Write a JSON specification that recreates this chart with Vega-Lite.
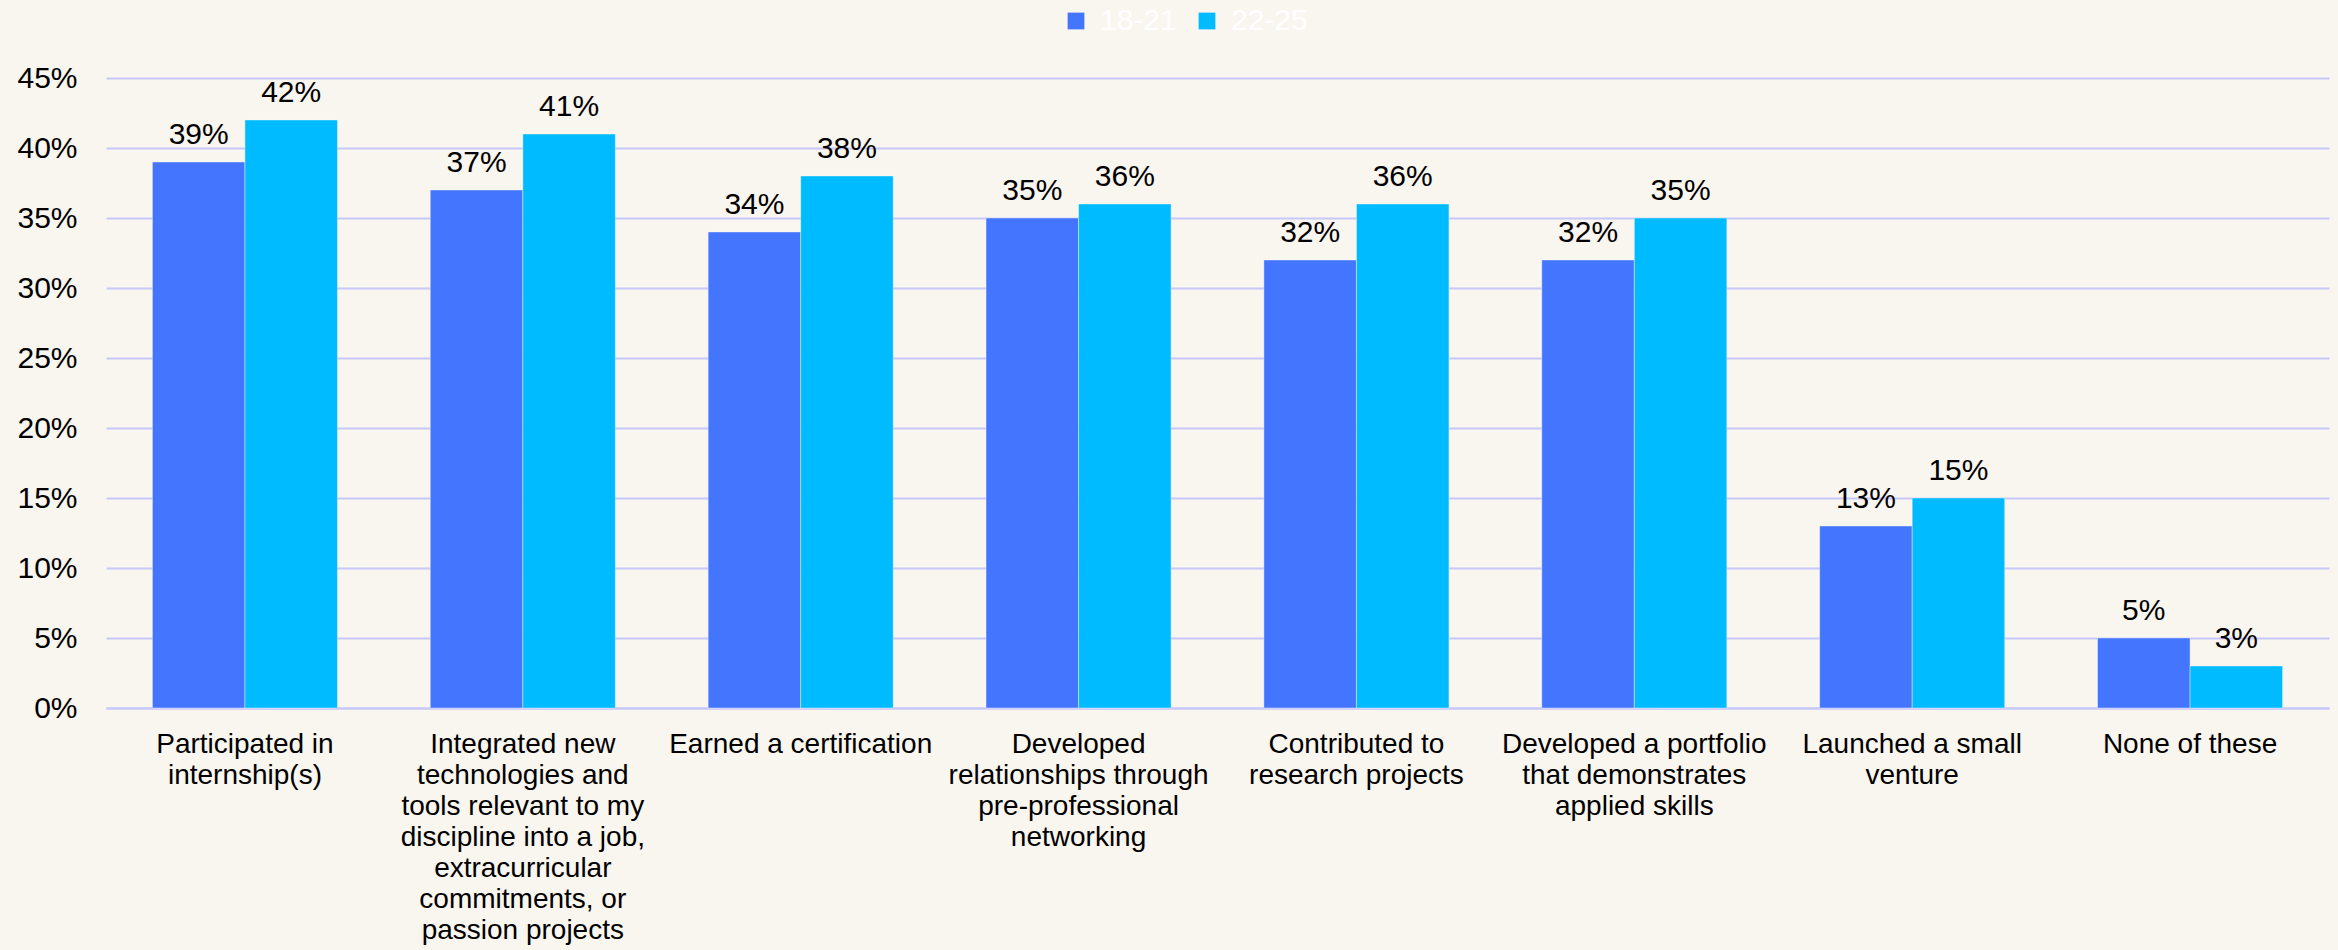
{
  "$schema": "https://vega.github.io/schema/vega-lite/v6.json",
  "width": 2223,
  "height": 630,
  "autosize": {"type": "none"},
  "padding": {"left": 106, "top": 78, "right": 9, "bottom": 242},
  "background": "#F9F5EF",
  "config": {"font": "Liberation Sans", "view": {"stroke": null}},
  "data": {
    "values": [
      {"category": "Participated in internship(s)", "age": "18-21", "pct": 0.39},
      {"category": "Participated in internship(s)", "age": "22-25", "pct": 0.42},
      {"category": "Integrated new technologies and tools relevant to my discipline into a job, extracurricular commitments, or passion projects", "age": "18-21", "pct": 0.37},
      {"category": "Integrated new technologies and tools relevant to my discipline into a job, extracurricular commitments, or passion projects", "age": "22-25", "pct": 0.41},
      {"category": "Earned a certification", "age": "18-21", "pct": 0.34},
      {"category": "Earned a certification", "age": "22-25", "pct": 0.38},
      {"category": "Developed relationships through pre-professional networking", "age": "18-21", "pct": 0.35},
      {"category": "Developed relationships through pre-professional networking", "age": "22-25", "pct": 0.36},
      {"category": "Contributed to research projects", "age": "18-21", "pct": 0.32},
      {"category": "Contributed to research projects", "age": "22-25", "pct": 0.36},
      {"category": "Developed a portfolio that demonstrates applied skills", "age": "18-21", "pct": 0.32},
      {"category": "Developed a portfolio that demonstrates applied skills", "age": "22-25", "pct": 0.35},
      {"category": "Launched a small venture", "age": "18-21", "pct": 0.13},
      {"category": "Launched a small venture", "age": "22-25", "pct": 0.15},
      {"category": "None of these", "age": "18-21", "pct": 0.05},
      {"category": "None of these", "age": "22-25", "pct": 0.03}
    ]
  },
  "encoding": {
    "x": {
      "field": "category",
      "type": "nominal",
      "sort": null,
      "scale": {"paddingInner": 0.334, "paddingOuter": 0.167},
      "axis": {
        "title": null,
        "labelAngle": 0,
        "labelFontSize": 28,
        "labelColor": "#000000",
        "labelLineHeight": 31,
        "labelPadding": 22,
        "labelLimit": 0,
        "labelOverlap": false,
        "labelBaseline": "top",
        "ticks": false,
        "domain": true,
        "domainColor": "#C8C8FA",
        "domainWidth": 2,
        "labelExpr": "{'Participated in internship(s)': ['Participated in', 'internship(s)'], 'Integrated new technologies and tools relevant to my discipline into a job, extracurricular commitments, or passion projects': ['Integrated new', 'technologies and', 'tools relevant to my', 'discipline into a job,', 'extracurricular', 'commitments, or', 'passion projects'], 'Earned a certification': ['Earned a certification'], 'Developed relationships through pre-professional networking': ['Developed', 'relationships through', 'pre-professional', 'networking'], 'Contributed to research projects': ['Contributed to', 'research projects'], 'Developed a portfolio that demonstrates applied skills': ['Developed a portfolio', 'that demonstrates', 'applied skills'], 'Launched a small venture': ['Launched a small', 'venture'], 'None of these': ['None of these']}[datum.value]"
      }
    },
    "xOffset": {"field": "age", "type": "nominal", "sort": ["18-21", "22-25"]},
    "y": {
      "field": "pct",
      "type": "quantitative",
      "scale": {"domain": [0, 0.45], "nice": false},
      "axis": {
        "title": null,
        "values": [0, 0.05, 0.1, 0.15, 0.2, 0.25, 0.3, 0.35, 0.4, 0.45],
        "format": ".0%",
        "labelFontSize": 30,
        "labelColor": "#000000",
        "labelPadding": 29,
        "ticks": false,
        "domain": false,
        "grid": true,
        "gridColor": "#C8C8FA",
        "gridWidth": 2
      }
    }
  },
  "layer": [
    {
      "mark": {"type": "bar", "stroke": "#FFFFFF", "strokeWidth": 0.8, "strokeOpacity": 0.5},
      "encoding": {
        "color": {
          "field": "age",
          "type": "nominal",
          "scale": {"domain": ["18-21", "22-25"], "range": ["#4475FF", "#00BBFF"]},
          "legend": {
            "orient": "none",
            "legendX": 955,
            "legendY": -72,
            "direction": "horizontal",
            "title": null,
            "symbolType": "square",
            "symbolSize": 280,
            "symbolStrokeWidth": 0,
            "symbolOpacity": 1,
            "labelFontSize": 30,
            "labelColor": "#FFFFFF",
            "labelOffset": 9,
            "columnPadding": 15,
            "padding": 0
          }
        }
      }
    },
    {
      "mark": {"type": "text", "baseline": "bottom", "dy": -12, "fontSize": 30, "color": "#000000"},
      "encoding": {"text": {"field": "pct", "type": "quantitative", "format": ".0%"}, "detail": {"field": "age"}}
    }
  ]
}
